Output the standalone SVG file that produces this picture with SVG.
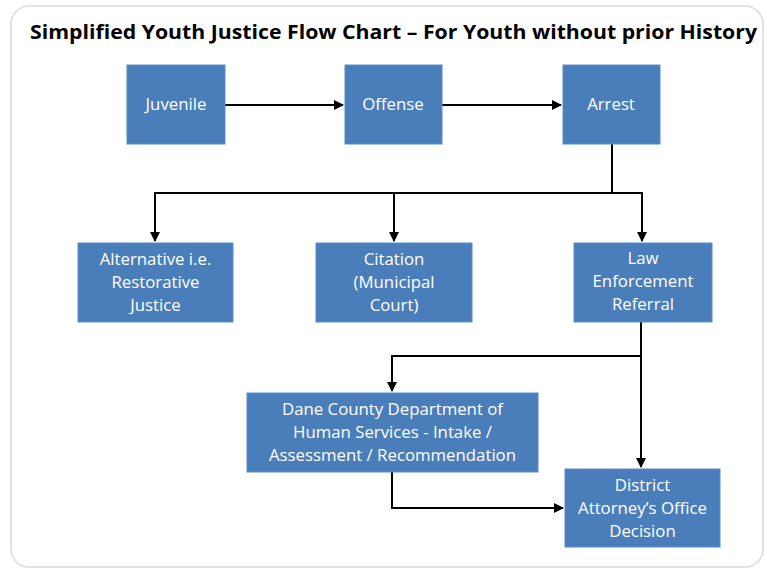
<svg xmlns="http://www.w3.org/2000/svg" width="767" height="571" viewBox="0 0 767 571">
<style>
.box{fill:#4a7ebb;stroke:#5b8cc6;stroke-width:1}
.t{font-family:"Open Sans","Liberation Sans",sans-serif;font-size:16.8px;fill:#ffffff;text-anchor:middle}
.c{fill:none;stroke:#000;stroke-width:2;marker-end:url(#ah)}
.l{fill:none;stroke:#000;stroke-width:2}
</style>
<defs>
<marker id="ah" viewBox="0 0 10 10" refX="9" refY="5" markerWidth="5" markerHeight="5" orient="auto" markerUnits="strokeWidth">
<path d="M0,0 L10,5 L0,10 Z" fill="#000"/>
</marker>
</defs>
<rect x="0" y="0" width="767" height="571" fill="#ffffff"/>
<rect x="11" y="6" width="752" height="561" rx="18" fill="#ffffff" stroke="#e2e2e2" stroke-width="2"/>
<text x="30" y="39" font-family="'Open Sans','Liberation Sans',sans-serif" font-size="20" font-weight="bold" fill="#000" textLength="727" lengthAdjust="spacingAndGlyphs">Simplified Youth Justice Flow Chart – For Youth without prior History</text>

<g id="connectors">
<line class="c" x1="225" y1="105" x2="343" y2="105"/>
<line class="c" x1="442" y1="105" x2="561" y2="105"/>
<polyline class="l" points="612,144 612,193"/>
<polyline class="l" points="155,193 642,193"/>
<line class="c" x1="155" y1="192" x2="155" y2="241"/>
<line class="c" x1="394" y1="193" x2="394" y2="241"/>
<polyline class="c" points="642,192 642,241"/>
<line class="c" x1="641" y1="322" x2="641" y2="467"/>
<polyline class="c" points="641,356 392,356 392,391"/>
<polyline class="c" points="392,472 392,508 563,508"/>
</g>

<g id="juvenile"><rect class="box" x="127" y="65" width="98" height="79"/><text class="t" x="176" y="110">Juvenile</text></g>
<g id="offense"><rect class="box" x="345" y="65" width="97" height="79"/><text class="t" x="393" y="110">Offense</text></g>
<g id="arrest"><rect class="box" x="563" y="65" width="97" height="79"/><text class="t" x="611" y="110">Arrest</text></g>

<g id="alternative"><rect class="box" x="78" y="243" width="155" height="79"/>
<text class="t" x="155.5" y="265">Alternative i.e.</text><text class="t" x="155.5" y="288">Restorative</text><text class="t" x="155.5" y="311">Justice</text></g>
<g id="citation"><rect class="box" x="316" y="243" width="156" height="79"/>
<text class="t" x="394" y="265">Citation</text><text class="t" x="394" y="288">(Municipal</text><text class="t" x="394" y="311">Court)</text></g>
<g id="law"><rect class="box" x="574" y="243" width="138" height="79"/>
<text class="t" x="643" y="264">Law</text><text class="t" x="643" y="287">Enforcement</text><text class="t" x="643" y="310">Referral</text></g>

<g id="dane"><rect class="box" x="247" y="393" width="291" height="79"/>
<text class="t" x="392.5" y="415">Dane County Department of</text><text class="t" x="392.5" y="438">Human Services - Intake /</text><text class="t" x="392.5" y="461">Assessment / Recommendation</text></g>
<g id="da"><rect class="box" x="565" y="469" width="155" height="78"/>
<text class="t" x="642.5" y="491">District</text><text class="t" x="642.5" y="514">Attorney’s Office</text><text class="t" x="642.5" y="537">Decision</text></g>
</svg>
